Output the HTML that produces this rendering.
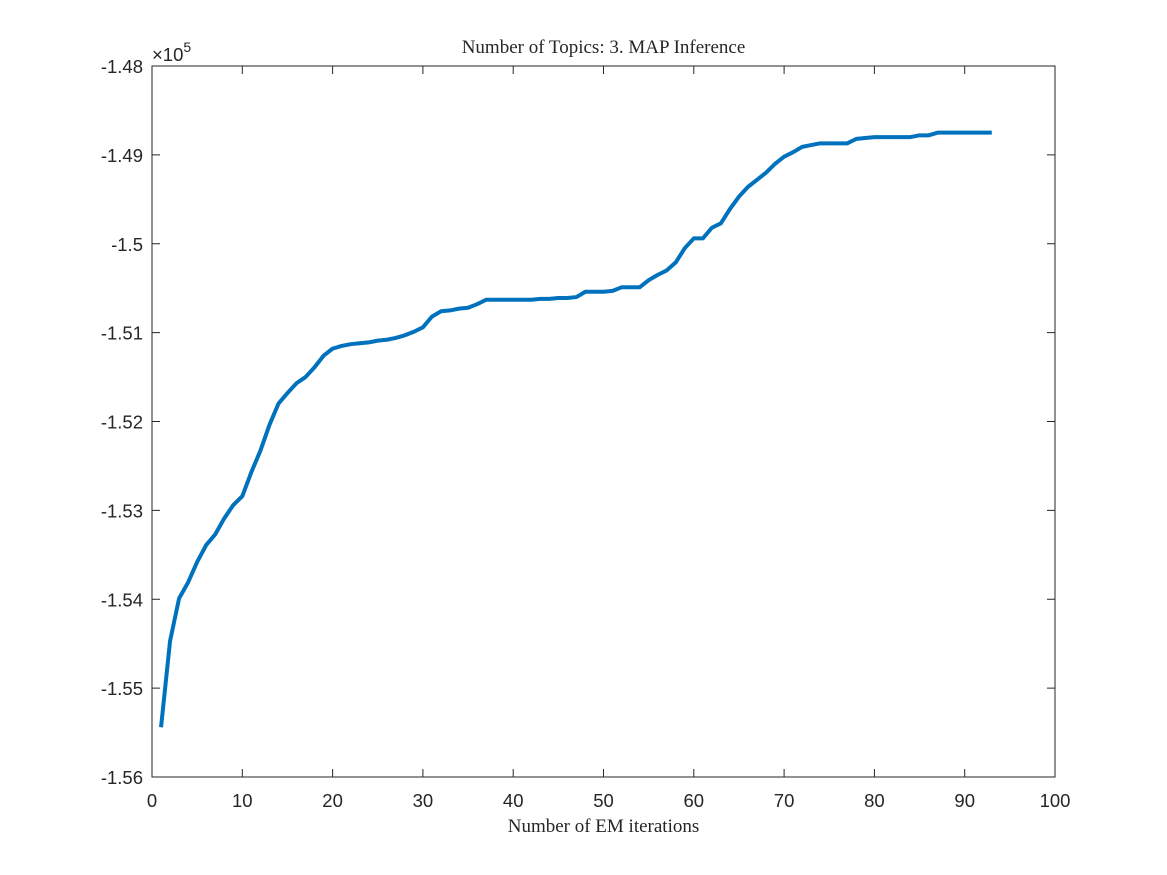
<!DOCTYPE html>
<html><head><meta charset="utf-8"><style>
html,body{margin:0;padding:0;background:#fff;}
svg{display:block;}
.tk{font-family:"Liberation Sans",sans-serif;font-size:18.5px;fill:#262626;}
.ser{font-family:"Liberation Serif",serif;fill:#262626;}
</style></head><body>
<svg id="chart" width="1167" height="875" xmlns="http://www.w3.org/2000/svg">
<rect x="0" y="0" width="1167" height="875" fill="#fff"/>
<g id="plot"></g>
</svg>
<script>
const iterations = [];
for (let i = 1; i <= 93; i++) iterations.push(i);
const logLik = [-1.5544,-1.5447,-1.5399,-1.5381,-1.5358,-1.5339,-1.5327,-1.5309,-1.5294,-1.5284,
-1.5257,-1.5233,-1.5204,-1.5180,-1.5168,-1.5157,-1.5150,-1.5139,-1.5126,-1.5118,
-1.5115,-1.5113,-1.5112,-1.5111,-1.5109,-1.5108,-1.5106,-1.5103,-1.5099,-1.5094,
-1.5082,-1.5076,-1.5075,-1.5073,-1.5072,-1.5068,-1.5063,-1.5063,-1.5063,-1.5063,
-1.5063,-1.5063,-1.5062,-1.5062,-1.5061,-1.5061,-1.5060,-1.5054,-1.5054,-1.5054,
-1.5053,-1.5049,-1.5049,-1.5049,-1.5041,-1.5035,-1.5030,-1.5021,-1.5005,-1.4994,
-1.4994,-1.4982,-1.4977,-1.4961,-1.4947,-1.4936,-1.4928,-1.4920,-1.4910,-1.4902,
-1.4897,-1.4891,-1.4889,-1.4887,-1.4887,-1.4887,-1.4887,-1.4882,-1.4881,-1.4880,
-1.4880,-1.4880,-1.4880,-1.4880,-1.4878,-1.4878,-1.4875,-1.4875,-1.4875,-1.4875,
-1.4875,-1.4875,-1.4875];
const xTicks = [0,10,20,30,40,50,60,70,80,90,100];
const yTicks = [-1.56,-1.55,-1.54,-1.53,-1.52,-1.51,-1.5,-1.49,-1.48];
const yTickLabels = ["-1.56","-1.55","-1.54","-1.53","-1.52","-1.51","-1.5","-1.49","-1.48"];

const L=152,R=1055,T=66,B=777;
const xMin=0,xMax=100,yMin=-1.56,yMax=-1.48;
const sx=v=>L+(v-xMin)/(xMax-xMin)*(R-L);
const sy=v=>B-(v-yMin)/(yMax-yMin)*(B-T);
const NS="http://www.w3.org/2000/svg";
const g=document.getElementById('plot');
function mk(tag,attrs,parent){const e=document.createElementNS(NS,tag);for(const k in attrs)e.setAttribute(k,attrs[k]);(parent||g).appendChild(e);return e;}

const box=mk('rect',{x:L,y:T,width:R-L,height:B-T,fill:'#fff',stroke:'#262626','stroke-width':1});



xTicks.forEach(v=>{
  const x=sx(v);
  const t1=mk('line',{x1:x,y1:B,x2:x,y2:B-8,stroke:'#262626'});
  
  
  const t2=mk('line',{x1:x,y1:T,x2:x,y2:T+8,stroke:'#262626'});
  
  
  const lb=mk('text',{x:x,y:B+30,'text-anchor':'middle',class:'tk'});
  lb.textContent=String(v);
  
  
});
yTicks.forEach((v,i)=>{
  const y=sy(v);
  const t1=mk('line',{x1:L,y1:y,x2:L+8,y2:y,stroke:'#262626'});
  
  
  const t2=mk('line',{x1:R,y1:y,x2:R-8,y2:y,stroke:'#262626'});
  
  
  const lb=mk('text',{x:L-9,y:y+7,'text-anchor':'end',class:'tk'});
  lb.textContent=yTickLabels[i];
  
  
});

const pts=iterations.map((it,i)=>sx(it).toFixed(2)+','+sy(logLik[i]).toFixed(2)).join(' ');
const line=mk('polyline',{points:pts,fill:'none',stroke:'#0072BD','stroke-width':4,'stroke-linejoin':'round'});



const exp=mk('text',{x:L,y:T-5,class:'tk'});


exp.innerHTML='<tspan>×10</tspan><tspan dy="-9" font-size="14">5</tspan>';

const title=mk('text',{x:(L+R)/2,y:53,'text-anchor':'middle',class:'ser','font-size':19});
title.textContent='Number of Topics: 3. MAP Inference';



const xl=mk('text',{x:(L+R)/2,y:832,'text-anchor':'middle',class:'ser','font-size':19});
xl.textContent='Number of EM iterations';


</script>
</body></html>
